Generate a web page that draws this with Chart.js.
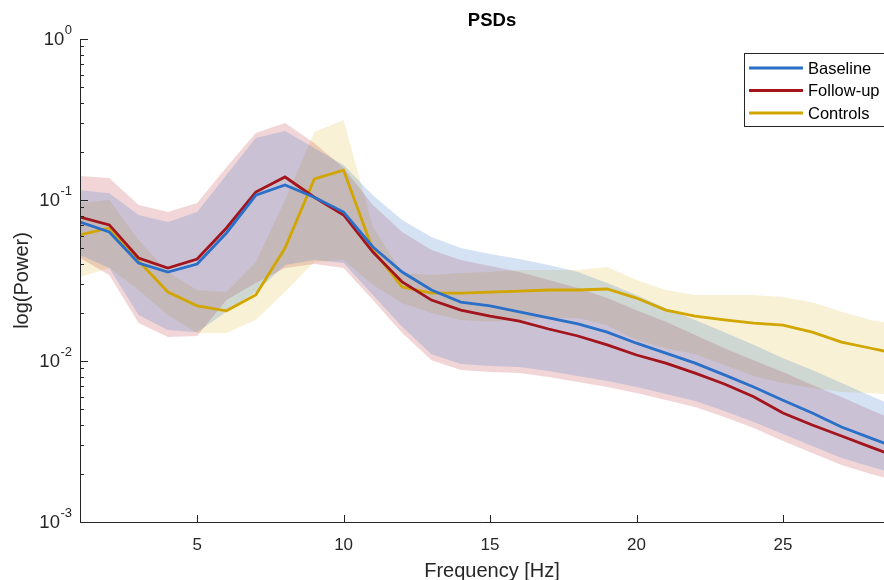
<!DOCTYPE html>
<html>
<head>
<meta charset="utf-8">
<script src="https://cdn.jsdelivr.net/npm/chart.js@4/dist/chart.umd.min.js"></script>
<style>
  html, body { margin: 0; padding: 0; background: #ffffff; }
  #wrap { width: 884px; height: 580px; overflow: hidden; }
</style>
</head>
<body>
<div id="wrap"><canvas id="c" width="884" height="580"></canvas></div>
<script>
// ---------- data ----------
const freqs = [1,2,3,4,5,6,7,8,9,10,11,12,13,14,15,16,17,18,19,20,21,22,23,24,25,26,27,28,29];

const baseline = [0.0730,0.0633,0.0406,0.0357,0.0400,0.0624,0.107,0.124,0.104,0.0842,0.0511,0.0357,0.0276,0.0232,0.0220,0.0202,0.0185,0.0170,0.0151,0.0129,0.0112,0.0097,0.0082,0.0069,0.0057,0.00475,0.00389,0.00332,0.00284];
const followUp = [0.0784,0.070,0.0436,0.0378,0.0430,0.067,0.112,0.139,0.104,0.0807,0.0475,0.031,0.0239,0.0207,0.0190,0.0177,0.0158,0.0143,0.0126,0.0109,0.0097,0.0084,0.0072,0.0060,0.00475,0.0040,0.00342,0.00292,0.0025];
const controls = [0.0607,0.067,0.0418,0.0268,0.0220,0.0205,0.0257,0.0503,0.135,0.153,0.0489,0.0288,0.0264,0.0264,0.0268,0.0272,0.0276,0.0276,0.0280,0.0246,0.0207,0.0190,0.0180,0.0172,0.0167,0.0151,0.0131,0.0120,0.011];

const baselineUpper = [0.115,0.110,0.0807,0.0730,0.0842,0.143,0.243,0.268,0.210,0.165,0.107,0.0751,0.0589,0.0503,0.0462,0.0430,0.0395,0.0357,0.0305,0.0257,0.0213,0.0180,0.0151,0.0126,0.0104,0.00879,0.00730,0.00606,0.00511];
const baselineLower = [0.0455,0.0378,0.0193,0.0156,0.0151,0.0202,0.0268,0.0395,0.0424,0.0406,0.0257,0.0163,0.0110,0.00958,0.00931,0.00918,0.00867,0.00807,0.00752,0.00690,0.00624,0.00565,0.00489,0.00418,0.00352,0.00296,0.00250,0.00220,0.00196];
const followUpper = [0.141,0.137,0.0931,0.0842,0.0958,0.160,0.261,0.301,0.226,0.158,0.0931,0.0633,0.0489,0.0424,0.0389,0.0357,0.0318,0.0284,0.0246,0.0207,0.0175,0.0145,0.0120,0.0101,0.00855,0.00710,0.00597,0.00496,0.00418];
const followLower = [0.0436,0.0342,0.0172,0.0141,0.0143,0.0239,0.0305,0.0378,0.0400,0.0378,0.0239,0.0149,0.0101,0.00879,0.00855,0.00842,0.00796,0.00741,0.00690,0.00633,0.00573,0.00518,0.00449,0.00384,0.00318,0.00268,0.00226,0.00199,0.00177];
const controlsUpper = [0.0958,0.100,0.0565,0.0357,0.0276,0.0268,0.0412,0.100,0.264,0.314,0.0679,0.0352,0.0342,0.0352,0.0357,0.0367,0.0367,0.0367,0.0384,0.0318,0.0276,0.0257,0.0257,0.0257,0.0250,0.0232,0.0202,0.0180,0.0167];
const controlsLower = [0.0333,0.0378,0.0276,0.0193,0.0149,0.0149,0.0180,0.0268,0.0412,0.0424,0.0296,0.0229,0.0199,0.0180,0.0175,0.0180,0.0185,0.0185,0.0167,0.0135,0.0120,0.0110,0.00944,0.00807,0.00730,0.00680,0.00641,0.00633,0.00615];

const seriesLabels = ['Baseline', 'Follow-up', 'Controls'];
const xTickValues = [5, 10, 15, 20, 25];
const yTickValues = [0.001, 0.01, 0.1, 1];
const yTickBase = '10';
const yTickExponents = ['-3', '-2', '-1', '0'];
const chartTitle = 'PSDs';
const xTitle = 'Frequency [Hz]';
const yTitle = 'log(Power)';

// ---------- styles ----------
const lineColors = ['#2a6fc8', '#a3141c', '#d2a600'];
const bandColors = ['rgba(42,111,200,0.20)', 'rgba(185,30,35,0.18)', 'rgba(215,175,20,0.18)'];
const FONT = "'Liberation Sans', Arial, Helvetica, sans-serif";
const AXIS = '#262626';
// the original axes box extends past the right edge of the picture; its centre is here
const AXES_CENTER_X = 492;

function pts(arr) { return arr.map((v, i) => ({ x: freqs[i], y: v })); }

const lineDs = (label, data, color) => ({
  label, data: pts(data), borderColor: color, backgroundColor: color,
  borderWidth: 2.8, pointRadius: 0, tension: 0, fill: false, order: 0
});
const bandUpper = (data, color) => ({
  label: '', data: pts(data), borderWidth: 0, borderColor: 'rgba(0,0,0,0)',
  backgroundColor: color, pointRadius: 0, tension: 0, fill: '+1', order: 1
});
const bandLower = (data) => ({
  label: '', data: pts(data), borderWidth: 0, borderColor: 'rgba(0,0,0,0)',
  pointRadius: 0, tension: 0, fill: false, order: 1
});

const axisPlugin = {
  id: 'axisPlugin',
  afterDraw(chart) {
    const { ctx, chartArea: a, scales: { x, y } } = chart;
    ctx.save();
    ctx.strokeStyle = AXIS;
    ctx.lineWidth = 1;
    ctx.beginPath();
    // axis lines
    ctx.moveTo(a.left + 0.5, a.top);
    ctx.lineTo(a.left + 0.5, a.bottom + 0.5);
    ctx.lineTo(a.right, a.bottom + 0.5);
    // x ticks (inward)
    xTickValues.forEach(v => {
      const px = Math.round(x.getPixelForValue(v)) + 0.5;
      ctx.moveTo(px, a.bottom);
      ctx.lineTo(px, a.bottom - 7);
    });
    // y ticks: major + minor (inward)
    yTickValues.forEach((base, i) => {
      const py = Math.round(y.getPixelForValue(base)) + 0.5;
      ctx.moveTo(a.left, py);
      ctx.lineTo(a.left + 8, py);
      if (i < yTickValues.length - 1) {
        for (let m = 2; m <= 9; m++) {
          const pm = Math.round(y.getPixelForValue(base * m)) + 0.5;
          ctx.moveTo(a.left, pm);
          ctx.lineTo(a.left + 4, pm);
        }
      }
    });
    ctx.stroke();

    // y tick labels with superscript exponents
    ctx.fillStyle = AXIS;
    ctx.textAlign = 'right';
    ctx.textBaseline = 'middle';
    yTickValues.forEach((v, i) => {
      const py = y.getPixelForValue(v);
      const rightEdge = 72;
      ctx.font = '13px ' + FONT;
      const ew = ctx.measureText(yTickExponents[i]).width;
      ctx.fillText(yTickExponents[i], rightEdge, py - 9);
      ctx.font = '18.5px ' + FONT;
      ctx.fillText(yTickBase, rightEdge - ew - 0.5, py + 1);
    });

    // chart title and x-axis title, centred on the full axes box
    ctx.textAlign = 'center';
    ctx.textBaseline = 'middle';
    ctx.fillStyle = '#000000';
    ctx.font = 'bold 18.5px ' + FONT;
    ctx.fillText(chartTitle, AXES_CENTER_X, 21);
    ctx.fillStyle = AXIS;
    ctx.font = '20px ' + FONT;
    ctx.fillText(xTitle, AXES_CENTER_X, 571);

    // legend
    const lx = 744, ly = 53, lw = 160, lh = 73;
    ctx.fillStyle = '#ffffff';
    ctx.fillRect(lx, ly, lw, lh);
    ctx.strokeStyle = '#262626';
    ctx.lineWidth = 1;
    ctx.strokeRect(lx + 0.5, ly + 0.5, lw, lh);
    ctx.font = '16.5px ' + FONT;
    ctx.textBaseline = 'middle';
    ctx.textAlign = 'left';
    seriesLabels.forEach((lab, i) => {
      const yy = 68 + i * 22.5;
      ctx.strokeStyle = lineColors[i];
      ctx.lineWidth = 2.8;
      ctx.beginPath();
      ctx.moveTo(749, yy);
      ctx.lineTo(803, yy);
      ctx.stroke();
      ctx.fillStyle = '#000000';
      ctx.fillText(lab, 808, yy + 1);
    });
    ctx.restore();
  }
};

new Chart(document.getElementById('c'), {
  type: 'line',
  data: {
    datasets: [
      lineDs(seriesLabels[0], baseline, lineColors[0]),
      lineDs(seriesLabels[1], followUp, lineColors[1]),
      lineDs(seriesLabels[2], controls, lineColors[2]),
      bandUpper(baselineUpper, bandColors[0]),
      bandLower(baselineLower),
      bandUpper(followUpper, bandColors[1]),
      bandLower(followLower),
      bandUpper(controlsUpper, bandColors[2]),
      bandLower(controlsLower)
    ]
  },
  options: {
    responsive: false,
    animation: false,
    layout: { padding: { left: 0, right: 0, top: 39, bottom: 0 } },
    plugins: {
      legend: { display: false },
      tooltip: { enabled: false },
      title: { display: false }
    },
    scales: {
      x: {
        type: 'linear', min: 1, max: 28.45,
        grid: { display: false, drawTicks: false },
        border: { display: false },
        afterBuildTicks: s => { s.ticks = xTickValues.map(v => ({ value: v })); },
        afterFit: s => { s.height = 58; },
        ticks: {
          color: AXIS, padding: 13, maxRotation: 0,
          font: { family: FONT, size: 17 },
          callback: v => String(v)
        },
        title: { display: false }
      },
      y: {
        type: 'logarithmic', min: 0.001, max: 1,
        grid: { display: false, drawTicks: false },
        border: { display: false },
        afterBuildTicks: s => { s.ticks = yTickValues.map(v => ({ value: v })); },
        afterFit: s => { s.width = 80; },
        ticks: { display: false },
        title: {
          display: true, text: yTitle, color: AXIS,
          font: { family: FONT, size: 20, lineHeight: 1.2 },
          padding: { top: 10, bottom: 0 }
        }
      }
    }
  },
  plugins: [axisPlugin]
});
</script>
</body>
</html>
